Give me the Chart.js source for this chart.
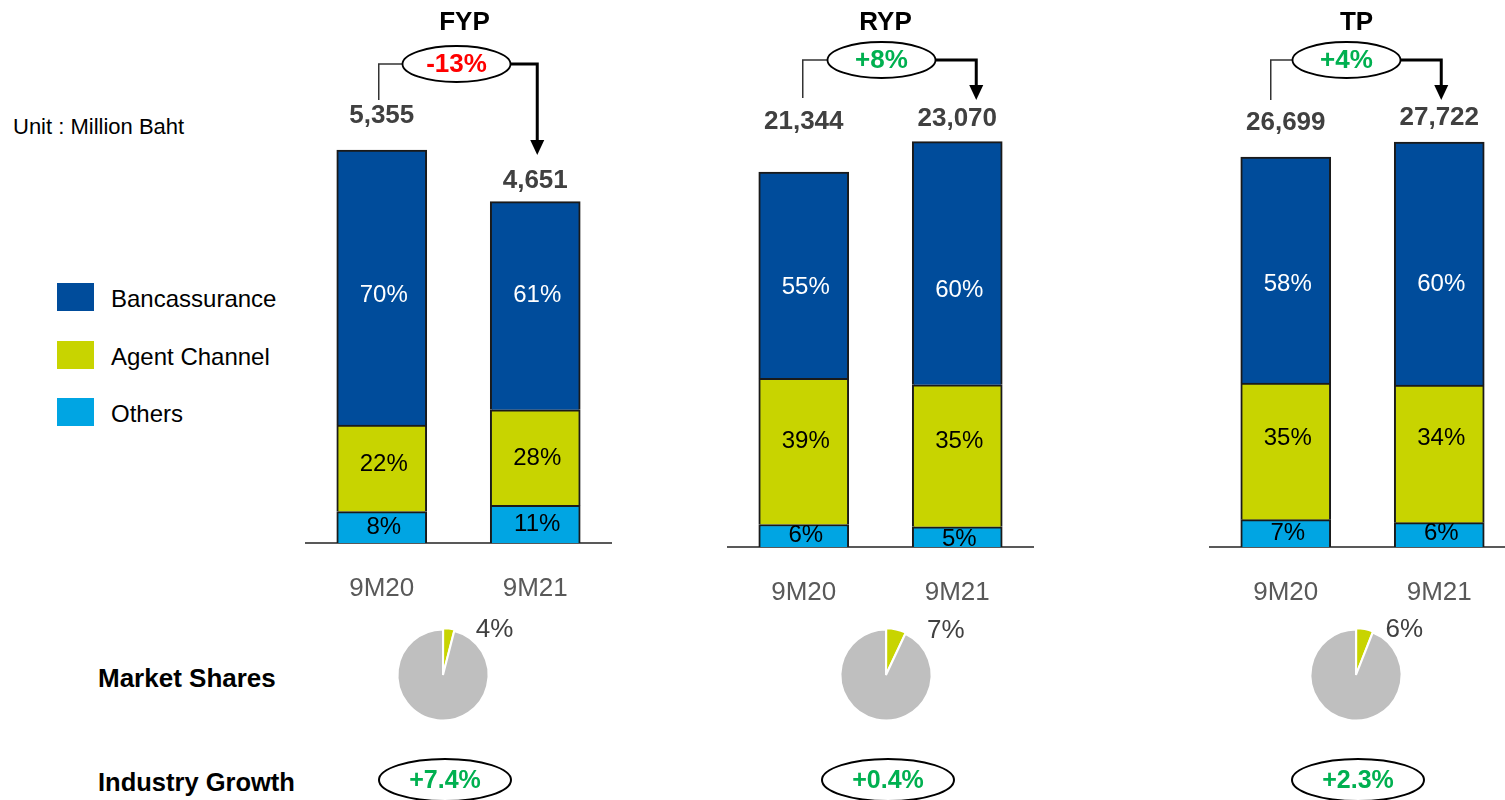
<!DOCTYPE html>
<html>
<head>
<meta charset="utf-8">
<script src="https://cdn.jsdelivr.net/npm/chart.js@4.4.0/dist/chart.umd.min.js"></script>
<style>
  html, body { margin: 0; padding: 0; background: #fff; overflow: hidden; }
  #page { position: relative; width: 1505px; height: 800px; font-family: 'Liberation Sans', Arial, sans-serif; }
  .txt { position: absolute; line-height: 1; white-space: nowrap; color: #000; }
  .box { position: absolute; width: 37px; height: 28px; }
  .wrap { position: absolute; }
  canvas { display: block; }
</style>
</head>
<body>
<div id="page"></div>
<script>
const FONT = "'Liberation Sans', Arial, sans-serif";

const periods = ['9M20', '9M21'];
const panelNames = ['FYP', 'RYP', 'TP'];
const seriesNames = ['Bancassurance', 'Agent Channel', 'Others'];

// FYP
const fypTotals = [5355, 4651];
const fypBanc = [70, 61];
const fypAgent = [22, 28];
const fypOthers = [8, 11];
// RYP
const rypTotals = [21344, 23070];
const rypBanc = [55, 60];
const rypAgent = [39, 35];
const rypOthers = [6, 5];
// TP
const tpTotals = [26699, 27722];
const tpBanc = [58, 60];
const tpAgent = [35, 34];
const tpOthers = [7, 6];

const growthLabels = ['-13%', '+8%', '+4%'];
const marketShares = [4, 7, 6];
const industryGrowth = ['+7.4%', '+0.4%', '+2.3%'];

const COLORS = {
  banc: '#004C9B', agent: '#C8D400', others: '#00A5E3', pie: '#BFBFBF',
  up: '#00B050', down: '#FF0000', total: '#404040', axis: '#595959'
};

// per panel placement (pixels); textY = label heights per stack [others, agent, banc] x bar
const LAYOUT = [
  { left: 305, base: 543, yMax: 6036,  lift: [34, 21], lineDx: -3,  lineBottom: 100, ellDx: -2,  ellY: 64, arrowDx: 2,  tipY: 155, titleDx: 8,  pieX: 443,
    textY: [[527, 524], [464, 458], [295, 295]], pieDx: 27 },
  { left: 727, base: 547, yMax: 25442, lift: [50, 23], lineDx: -1,  lineBottom: 98,  ellDx: 1,   ellY: 60, arrowDx: 19, tipY: 100, titleDx: 4,  pieX: 886,
    textY: [[535, 539], [441, 441], [287, 290]], pieDx: 31 },
  { left: 1209, base: 547, yMax: 30601, lift: [34, 24], lineDx: -15, lineBottom: 100, ellDx: -16, ellY: 60, arrowDx: 2,  tipY: 100, titleDx: 10, pieX: 1356,
    textY: [[533, 533], [438, 438], [284, 284]], pieDx: 21 }
];

Chart.defaults.font.family = FONT;

const page = document.getElementById('page');

function addText(str, left, cy, size, extra) {
  const d = document.createElement('div');
  d.className = 'txt';
  d.textContent = str;
  d.style.cssText = `left:${left}px;top:${cy - size / 2}px;font-size:${size}px;${extra || ''}`;
  page.appendChild(d);
}

addText('Unit : Million Baht', 13, 127, 22);
addText('Market Shares', 98, 678, 26, 'font-weight:bold');
addText('Industry Growth', 98, 783, 25.5, 'font-weight:bold');

// legend
const legendColors = [COLORS.banc, COLORS.agent, COLORS.others];
const legendY = [297, 355, 412];
seriesNames.forEach((name, i) => {
  const b = document.createElement('div');
  b.className = 'box';
  b.style.cssText = `left:57px;top:${legendY[i] - 14}px;background:${legendColors[i]}`;
  page.appendChild(b);
  addText(name, 111, legendY[i] + 2, 24);
});

function makeCanvas(left, top, w, h) {
  const wrap = document.createElement('div');
  wrap.className = 'wrap';
  wrap.style.cssText = `left:${left}px;top:${top}px;width:${w}px;height:${h}px`;
  const cv = document.createElement('canvas');
  cv.width = w; cv.height = h;
  wrap.appendChild(cv);
  page.appendChild(wrap);
  return cv;
}

function annotPlugin(i, totals) {
  const L = LAYOUT[i];
  return {
    id: 'annot' + i,
    afterDatasetsDraw(chart) {
      const ctx = chart.ctx;
      ctx.save();
      ctx.textAlign = 'center';
      ctx.textBaseline = 'middle';
      // segment percentages
      chart.data.datasets.forEach((ds, d) => {
        chart.getDatasetMeta(d).data.forEach((bar, k) => {
          ctx.fillStyle = ds.textColor;
          ctx.font = `24px ${FONT}`;
          ctx.fillText(ds.pct[k] + '%', bar.x + 2, L.textY[d][k]);
        });
      });
      // totals
      const tops = chart.getDatasetMeta(2).data;
      ctx.font = `bold 26px ${FONT}`;
      ctx.fillStyle = COLORS.total;
      tops.forEach((b, k) => ctx.fillText(totals[k].toLocaleString('en-US'), b.x, b.y - L.lift[k]));

      const ex = (tops[0].x + tops[1].x) / 2 + L.ellDx;
      const RX = 54, RY = 18;
      // title
      ctx.fillStyle = '#000';
      ctx.fillText(panelNames[i], ex + L.titleDx, 23);
      // left connector
      const lx = tops[0].x + L.lineDx;
      ctx.strokeStyle = '#333';
      ctx.lineWidth = 1.5;
      ctx.beginPath();
      ctx.moveTo(lx, L.lineBottom); ctx.lineTo(lx, L.ellY); ctx.lineTo(ex - RX, L.ellY);
      ctx.stroke();
      // right arrow
      const ax = tops[1].x + L.arrowDx;
      ctx.strokeStyle = '#000';
      ctx.lineWidth = 3;
      ctx.beginPath();
      ctx.moveTo(ex + RX, L.ellY); ctx.lineTo(ax, L.ellY); ctx.lineTo(ax, L.tipY - 13);
      ctx.stroke();
      ctx.fillStyle = '#000';
      ctx.beginPath();
      ctx.moveTo(ax - 7, L.tipY - 15); ctx.lineTo(ax + 7, L.tipY - 15); ctx.lineTo(ax, L.tipY);
      ctx.closePath(); ctx.fill();
      // ellipse
      ctx.lineWidth = 1.8;
      ctx.fillStyle = '#fff';
      ctx.beginPath();
      ctx.ellipse(ex, L.ellY, RX, RY, 0, 0, Math.PI * 2);
      ctx.fill(); ctx.stroke();
      ctx.fillStyle = growthLabels[i].startsWith('-') ? COLORS.down : COLORS.up;
      ctx.font = `bold 26px ${FONT}`;
      ctx.fillText(growthLabels[i], ex, L.ellY + 1);
      ctx.restore();
    }
  };
}

function makeBarPanel(i, totals, banc, agent, others) {
  const L = LAYOUT[i];
  const cv = makeCanvas(L.left, 0, 307, 620);
  const seg = pct => pct.map((p, k) => totals[k] * p / 100);
  new Chart(cv, {
    type: 'bar',
    data: {
      labels: periods,
      datasets: [
        { label: 'Others', data: seg(others), pct: others, backgroundColor: COLORS.others, textColor: '#000' },
        { label: 'Agent Channel', data: seg(agent), pct: agent, backgroundColor: COLORS.agent, textColor: '#000' },
        { label: 'Bancassurance', data: seg(banc), pct: banc, backgroundColor: COLORS.banc, textColor: '#fff' }
      ]
    },
    options: {
      responsive: false, maintainAspectRatio: false, animation: false,
      layout: { padding: { top: 100, bottom: 620 - 60 - L.base, left: 0, right: 0 } },
      plugins: { legend: { display: false }, tooltip: { enabled: false } },
      datasets: { bar: { barThickness: 90, borderColor: '#1a1a1a', borderWidth: 2 } },
      scales: {
        x: {
          stacked: true,
          grid: { display: false },
          border: { display: true, color: COLORS.axis, width: 2 },
          ticks: { color: '#595959', font: { size: 26 }, padding: 22 },
          afterFit: s => { s.height = 60; }
        },
        y: { stacked: true, display: false, min: 0, max: L.yMax }
      }
    },
    plugins: [annotPlugin(i, totals)]
  });
}

function makePie(i) {
  const L = LAYOUT[i];
  const cx = L.pieX;
  const cv = makeCanvas(cx - 120, 600, 240, 200);
  new Chart(cv, {
    type: 'pie',
    data: {
      labels: ['Market share', 'Rest'],
      datasets: [{
        data: [marketShares[i], 100 - marketShares[i]],
        backgroundColor: [COLORS.agent, COLORS.pie],
        borderColor: '#fff', borderWidth: 2, offset: [3, 0]
      }]
    },
    options: {
      responsive: false, maintainAspectRatio: false, animation: false,
      layout: { padding: { left: 72, right: 72, top: 27, bottom: 77 } },
      plugins: { legend: { display: false }, tooltip: { enabled: false } }
    },
    plugins: [{
      id: 'pieNote' + i,
      afterDraw(chart) {
        const ctx = chart.ctx;
        const arc = chart.getDatasetMeta(0).data[0];
        const mid = (arc.startAngle + arc.endAngle) / 2;
        const px = arc.x + Math.cos(mid) * arc.outerRadius;
        const py = arc.y + Math.sin(mid) * arc.outerRadius;
        ctx.save();
        ctx.textBaseline = 'middle';
        ctx.textAlign = 'left';
        ctx.fillStyle = '#404040';
        ctx.font = `26px ${FONT}`;
        ctx.fillText(marketShares[i] + '%', px + L.pieDx, py);
        // industry growth badge
        const gx = arc.x + 2, gy = 180;
        ctx.strokeStyle = '#000';
        ctx.lineWidth = 2;
        ctx.beginPath();
        ctx.ellipse(gx, gy, 66, 21, 0, 0, Math.PI * 2);
        ctx.stroke();
        ctx.textAlign = 'center';
        ctx.fillStyle = COLORS.up;
        ctx.font = `bold 25px ${FONT}`;
        ctx.fillText(industryGrowth[i], gx, gy + 1);
        ctx.restore();
      }
    }]
  });
}

makeBarPanel(0, fypTotals, fypBanc, fypAgent, fypOthers);
makeBarPanel(1, rypTotals, rypBanc, rypAgent, rypOthers);
makeBarPanel(2, tpTotals, tpBanc, tpAgent, tpOthers);
[0, 1, 2].forEach(makePie);
</script>
</body>
</html>
